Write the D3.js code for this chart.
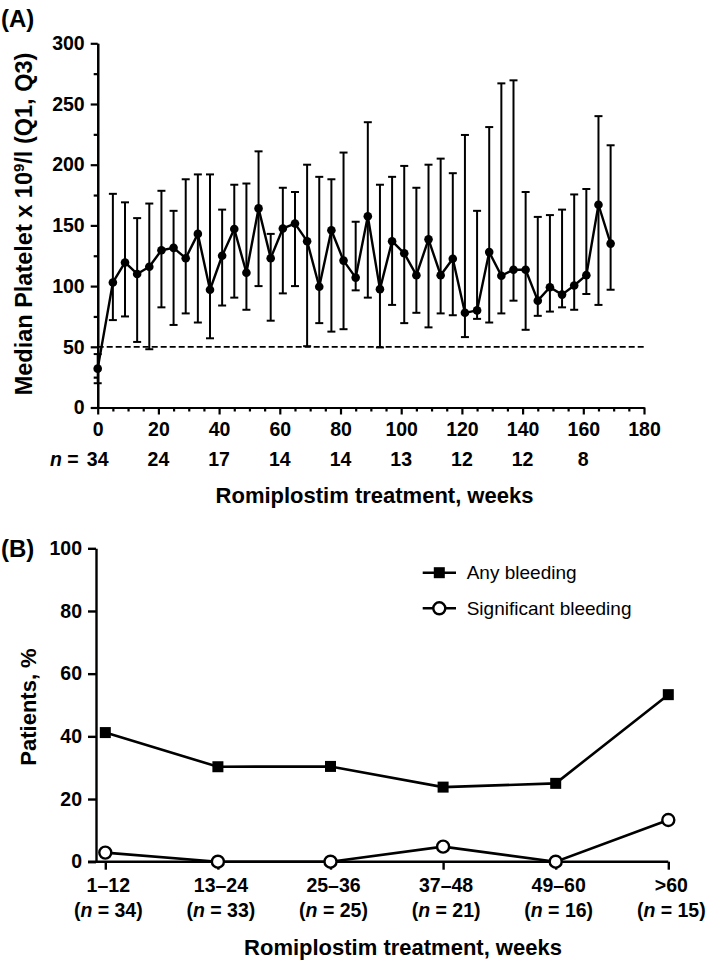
<!DOCTYPE html>
<html><head><meta charset="utf-8">
<script src="https://cdn.jsdelivr.net/npm/d3@7"></script>
<style>
body{margin:0;background:#fff;}
svg{display:block;font-family:"Liberation Sans",Arial,Helvetica,sans-serif;}
</style></head>
<body>
<svg id="c" width="709" height="963"></svg>
<script>
// ---- Panel A data ----
const weeks = [0,5,9,13,17,21,25,29,33,37,41,45,49,53,57,61,65,69,73,77,81,85,89,93,97,101,105,109,113,117,121,125,129,133,137,141,145,149,153,157,161,165,169];
const medianPlatelet = [32,103,119.5,110,116,129.5,131.5,123,143,97,125,147,111,164,123,147.5,151.5,137,99.5,146,121,107,157.5,97.5,137,127,109,138.5,109,122.5,78,80,128,108.5,113.5,113.5,88,99,93,100.5,109,167,135];
const q1Platelet = [20,72,75,54,48,82.5,68,77.5,70,57,84,90.5,80.5,100,71.5,94,100,50.5,69.5,62.5,64.5,96.5,90.5,49.5,84.5,69.5,78,66,77.5,76,58,73,70,77.5,88,64,75.5,79,82.5,80.5,93.5,84.5,97];
const q3Platelet = [44,176,169,156,168,178.5,162,188,192,192,163,183.5,184.5,211,143,181,177.5,200,190,188,210,153,235,183.5,190,199,181,200,205,193,224.5,162,231,267,269.5,177.5,157,158.5,163,175.5,180,240,216];
const xTicksA = [0,20,40,60,80,100,120,140,160,180];
const xMinorTicksA = [5,10,15,25,30,35,45,50,55,65,70,75,85,90,95,105,110,115,125,130,135,145,150,155,165,170,175];
const nAtRisk = ["34","24","17","14","14","13","12","12","8"];
const yTicksA = [0,50,100,150,200,250,300];
const yMinorTicksA = [25,75,125,175,225,275];
const threshold = 50;

// ---- Panel B data ----
const periods = ["1–12","13–24","25–36","37–48","49–60",">60"];
const periodN = ["34","33","25","21","16","15"];
const anyBleeding = [41.2,30.3,30.4,23.8,25,53.3];
const sigBleeding = [2.9,0,0,4.8,0,13.3];
const yTicksB = [0,20,40,60,80,100];

const svg = d3.select("#c");
const FONT = '"Liberation Sans",Arial,Helvetica,sans-serif';

// ================= Panel A =================
const xA = d3.scaleLinear().domain([0,180]).range([97.7,644]);
const yA = d3.scaleLinear().domain([0,300]).range([407.5,43.3]);

const gA = svg.append("g");

const yMinorA = d3.axisLeft(yA).tickValues(yMinorTicksA).tickSize(4).tickFormat("").tickSizeOuter(0);
gA.append("g").attr("transform","translate(97.7,0)").call(yMinorA);
const yAxisA = d3.axisLeft(yA).tickValues(yTicksA).tickSize(7).tickSizeOuter(0).tickPadding(6);
gA.append("g").attr("transform","translate(97.7,0)").call(yAxisA);

const xMinorA = d3.axisBottom(xA).tickValues(xMinorTicksA).tickSize(4).tickFormat("").tickSizeOuter(0);
gA.append("g").attr("transform","translate(0,407.5)").call(xMinorA);
const xAxisA = d3.axisBottom(xA).tickValues(xTicksA).tickSize(7).tickSizeOuter(0).tickPadding(8);
gA.append("g").attr("transform","translate(0,407.5)").call(xAxisA);

gA.selectAll(".domain, .tick line").attr("stroke","#000").attr("stroke-width",2.2);
gA.selectAll(".tick text").attr("font-family",FONT).attr("font-weight","bold").attr("font-size",19.5).attr("fill","#000");

// n at risk row
const nRow = gA.append("g");
nAtRisk.forEach((n,i)=>{
  nRow.append("text").attr("x",xA(xTicksA[i])).attr("y",466).attr("text-anchor","middle")
    .attr("font-family",FONT).attr("font-weight","bold").attr("font-size",19.5).text(n);
});
const nLbl = nRow.append("text").attr("x",xA(0)-19).attr("y",466).attr("text-anchor","end")
  .attr("font-family",FONT).attr("font-weight","bold").attr("font-size",19.5);
nLbl.append("tspan").attr("font-style","italic").text("n");
nLbl.append("tspan").text(" =");

// dashed threshold
gA.append("line").attr("x1",xA(0)).attr("x2",646.7).attr("y1",yA(threshold)).attr("y2",yA(threshold))
  .attr("stroke","#000").attr("stroke-width",1.8).attr("stroke-dasharray","6,3");

// error bars
const eb = gA.append("g").attr("stroke","#000").attr("stroke-width",2);
weeks.forEach((w,i)=>{
  const x = xA(w);
  eb.append("line").attr("x1",x).attr("x2",x).attr("y1",yA(q1Platelet[i])).attr("y2",yA(q3Platelet[i]));
  eb.append("line").attr("x1",x-4).attr("x2",x+4).attr("y1",yA(q1Platelet[i])).attr("y2",yA(q1Platelet[i]));
  eb.append("line").attr("x1",x-4).attr("x2",x+4).attr("y1",yA(q3Platelet[i])).attr("y2",yA(q3Platelet[i]));
});

// median line + points
const lineA = d3.line().x((d,i)=>xA(weeks[i])).y(d=>yA(d));
gA.append("path").datum(medianPlatelet).attr("d",lineA).attr("fill","none").attr("stroke","#000").attr("stroke-width",2.4).attr("stroke-linejoin","round");
gA.selectAll("circle.pt").data(medianPlatelet).enter().append("circle")
  .attr("cx",(d,i)=>xA(weeks[i])).attr("cy",d=>yA(d)).attr("r",4.3).attr("fill","#000");

// titles
gA.append("text").attr("x",1).attr("y",27).attr("font-family",FONT).attr("font-weight","bold").attr("font-size",24).text("(A)");
const ytA = gA.append("text").attr("transform","translate(32,224) rotate(-90)").attr("text-anchor","middle")
  .attr("font-family",FONT).attr("font-weight","bold").attr("font-size",23.5);
ytA.append("tspan").text("Median Platelet x 10");
ytA.append("tspan").attr("dy",-8).attr("font-size",15).text("9");
ytA.append("tspan").attr("dy",8).text("/l (Q1, Q3)");
gA.append("text").attr("x",374.5).attr("y",503).attr("text-anchor","middle")
  .attr("font-family",FONT).attr("font-weight","bold").attr("font-size",22).text("Romiplostim treatment, weeks");

// ================= Panel B =================
const xB = d3.scalePoint().domain(periods).range([105.3,668.3]);
const yB = d3.scaleLinear().domain([0,100]).range([861.7,548.3]);
const gB = svg.append("g");

const yAxisB = d3.axisLeft(yB).tickValues(yTicksB).tickSize(8).tickSizeOuter(0).tickPadding(6);
gB.append("g").attr("transform","translate(96,0)").call(yAxisB);
const xAxisB = d3.axisBottom(xB).tickSize(8).tickSizeOuter(0).tickFormat("");
const xg = gB.append("g").attr("transform","translate(0,861.7)").call(xAxisB);
xg.select(".domain").attr("d","M88,0H"+xB(">60"));
gB.selectAll(".domain, .tick line").attr("stroke","#000").attr("stroke-width",2.4);
gB.selectAll(".tick text").attr("font-family",FONT).attr("font-weight","bold").attr("font-size",19.5).attr("fill","#000");

periods.forEach((p,i)=>{
  gB.append("text").attr("x",xB(p)+3).attr("y",892).attr("text-anchor","middle")
    .attr("font-family",FONT).attr("font-weight","bold").attr("font-size",19.5).text(p);
  const t = gB.append("text").attr("x",xB(p)+3).attr("y",917).attr("text-anchor","middle")
    .attr("font-family",FONT).attr("font-weight","bold").attr("font-size",19.5);
  t.append("tspan").text("(");
  t.append("tspan").attr("font-style","italic").text("n");
  t.append("tspan").text(" = "+periodN[i]+")");
});

const lineB = d3.line().x((d,i)=>xB(periods[i])).y(d=>yB(d));
gB.append("path").datum(anyBleeding).attr("d",lineB).attr("fill","none").attr("stroke","#000").attr("stroke-width",2.6);
gB.append("path").datum(sigBleeding).attr("d",lineB).attr("fill","none").attr("stroke","#000").attr("stroke-width",2.6);
gB.selectAll("rect.sq").data(anyBleeding).enter().append("rect")
  .attr("x",(d,i)=>xB(periods[i])-5.5).attr("y",d=>yB(d)-5.5).attr("width",11).attr("height",11).attr("fill","#000");
gB.selectAll("circle.oc").data(sigBleeding).enter().append("circle")
  .attr("cx",(d,i)=>xB(periods[i])).attr("cy",d=>yB(d)).attr("r",6).attr("fill","#fff").attr("stroke","#000").attr("stroke-width",2.4);

// legend
const leg = gB.append("g");
leg.append("line").attr("x1",422.7).attr("x2",456).attr("y1",572.7).attr("y2",572.7).attr("stroke","#000").attr("stroke-width",2.6);
leg.append("rect").attr("x",439.3-5.5).attr("y",572.7-5.5).attr("width",11).attr("height",11).attr("fill","#000");
leg.append("text").attr("x",466.7).attr("y",572.7).attr("dy","0.35em").attr("font-family",FONT).attr("font-size",19).text("Any bleeding");
leg.append("line").attr("x1",422.7).attr("x2",456).attr("y1",608.3).attr("y2",608.3).attr("stroke","#000").attr("stroke-width",2.6);
leg.append("circle").attr("cx",439.3).attr("cy",608.3).attr("r",6).attr("fill","#fff").attr("stroke","#000").attr("stroke-width",2.4);
leg.append("text").attr("x",466.7).attr("y",608.3).attr("dy","0.35em").attr("font-family",FONT).attr("font-size",19).text("Significant bleeding");

gB.append("text").attr("x",1).attr("y",557).attr("font-family",FONT).attr("font-weight","bold").attr("font-size",24).text("(B)");
gB.append("text").attr("transform","translate(36,707) rotate(-90)").attr("text-anchor","middle")
  .attr("font-family",FONT).attr("font-weight","bold").attr("font-size",22).text("Patients, %");
gB.append("text").attr("x",403).attr("y",955).attr("text-anchor","middle")
  .attr("font-family",FONT).attr("font-weight","bold").attr("font-size",22).text("Romiplostim treatment, weeks");
</script>
</body></html>
